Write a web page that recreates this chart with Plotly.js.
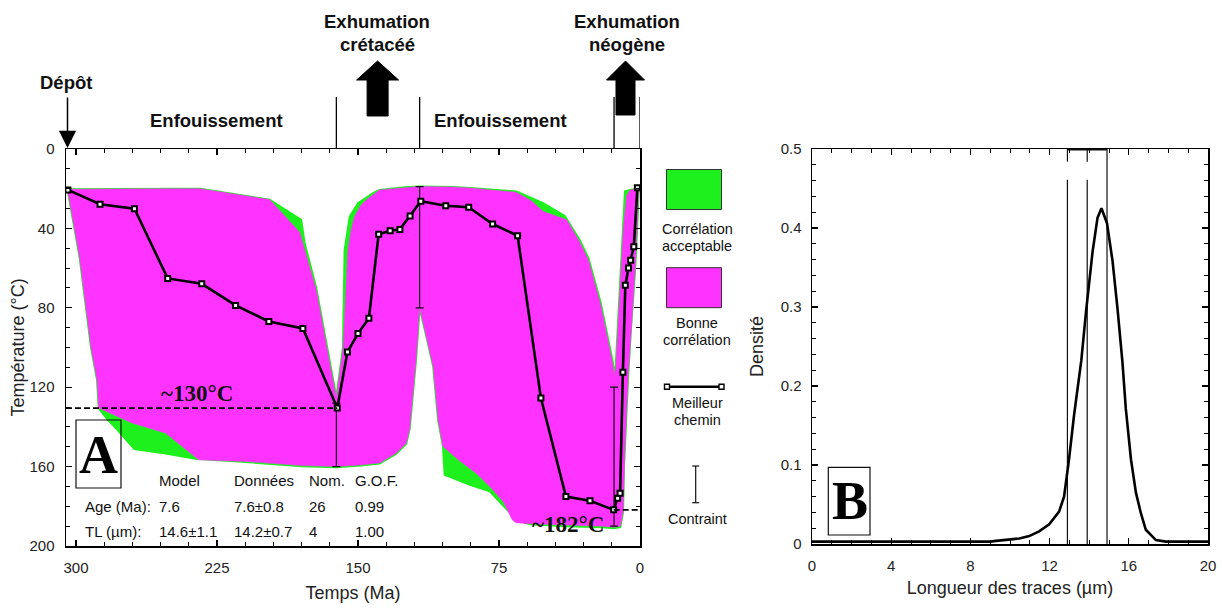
<!DOCTYPE html>
<html><head><meta charset="utf-8">
<script src="https://cdn.plot.ly/plotly-3.0.1.min.js"></script>
<style>html,body{margin:0;padding:0;background:#fff;}#chart{width:1222px;height:610px;}</style>
</head><body><div id="chart"></div>
<script>
// ---------- Panel A : best path (time Ma, temperature °C) ----------
const pathTime = [304.3, 287.2, 268.9, 251.2, 233.1, 215.1, 197.4, 179.3, 161.0, 155.6, 150.0, 144.2, 139.0, 132.9, 127.7, 122.3, 116.6, 103.3, 91.1, 78.4, 65.1, 52.7, 39.4, 26.6, 14.0, 11.9, 10.6, 9.1, 7.8, 6.1, 5.0, 3.3, 1.4];
const pathTemp = [20.6, 27.8, 30.1, 65.2, 67.9, 78.8, 86.9, 90.4, 130.5, 102.3, 93.0, 85.3, 42.9, 41.2, 40.5, 33.7, 26.3, 28.6, 29.3, 37.8, 43.7, 125.5, 175.1, 177.2, 181.8, 175.9, 173.4, 112.5, 68.6, 60.0, 56.0, 49.3, 19.5];

// good-fit envelope (magenta): upper edge (low T) then lower edge (high T)
const goodTopTime = [304.5, 280, 250, 234, 217, 197, 181, 178, 172.2, 165, 161.5, 158, 156.5, 155.3, 153.5, 151.8, 148.5, 145.5, 138.5, 125, 117.2, 100, 90.5, 66, 58, 51.5, 39, 32, 27.4, 20.9, 14.5, 13.8, 12.9, 11.2, 8.9, 7.1, 5.3, 0.6];
const goodTopTemp = [20.3, 20, 20, 20, 22.5, 25.5, 42, 52, 71, 108, 125.5, 101, 70, 50.8, 40, 34, 28.5, 25.6, 20.6, 19.3, 18.9, 19.2, 19.7, 21.8, 26, 31.5, 35.7, 47, 56, 78.6, 108, 114, 110, 80, 40.3, 23.5, 20.6, 20];
const goodBotTime = [0.6, 1.5, 2.6, 4.2, 6.2, 8.0, 9.0, 10.5, 13.8, 20, 40, 58.6, 66, 68, 72.5, 79.4, 87, 96, 104.8, 107.4, 110, 113.5, 117.2, 119, 121, 122.5, 124.3, 129.6, 138.5, 150, 161.5, 180, 209.8, 234.7, 252.4, 270.2, 287.9, 288.8, 292, 298, 304.5];
const goodBotTemp = [20, 40, 61, 85, 113, 150, 182.8, 190, 190.5, 190, 189.5, 188.8, 188.3, 186.8, 178, 170.5, 163.5, 157, 149.9, 136.4, 109.6, 95, 80, 105, 125, 141, 148.2, 153.2, 158.2, 159.3, 160, 159.5, 157.4, 156.6, 143.1, 138, 130.5, 116.3, 100, 55, 20.3];

// acceptable-fit envelope (green)
const accTopTime = [304.5, 280, 250, 234, 217, 197, 180.2, 178.4, 172.2, 165, 161.5, 158, 157.1, 154.4, 150, 142, 138.5, 125, 117.2, 100, 90.5, 65.7, 51.5, 40, 32, 27.4, 20.9, 14.5, 13.8, 12.9, 11.2, 8.9, 8.0, 5.3, 0.6];
const accTopTemp = [20.3, 20, 20, 20, 22.5, 25.5, 35.7, 47.3, 70, 107, 125, 100, 50.8, 34, 27.3, 22.2, 20.6, 19.3, 18.9, 19.2, 19.7, 21.4, 27.3, 33.7, 46, 55, 77.5, 107, 113, 109, 79, 39, 21.3, 20.6, 20];
const accBotTime = [0.6, 1.5, 2.6, 4.8, 6.2, 8.5, 9.0, 10.5, 13.8, 20, 40, 58.6, 65.7, 79.9, 90.5, 103.9, 104.8, 107.4, 110, 113.5, 117.2, 119, 121, 122.5, 124.3, 129.6, 138.5, 150, 161.5, 180, 209.8, 236.5, 252.4, 268.9, 278, 283.5, 287.9, 288.8, 292, 298, 304.5];
const accBotTemp = [20, 40, 61, 90.7, 113, 160, 183, 190.5, 191, 190.5, 190, 189, 186.8, 172.5, 169.2, 164.1, 149.9, 136.4, 109.6, 95, 80, 105, 125, 141, 148.5, 153.5, 158.5, 159.6, 160.3, 159.8, 157.7, 156, 153.4, 151.2, 141.5, 136, 130.5, 116.3, 100, 55, 20.3];

// constraints (time, T min, T max)
const consTime = [161.5, 117.2, 13.8];
const consMin = [128, 19, 120];
const consMax = [160, 80, 190];
const phaseBounds = [161.5, 117.2, 13.8, 0];
const depotTime = 304.5;

// table
const tableHeader = ['Model', 'Données', 'Nom.', 'G.O.F.'];
const rowLabels = ['Age (Ma):', 'TL (µm):'];
const rowAge = ['7.6', '7.6±0.8', '26', '0.99'];
const rowTL = ['14.6±1.1', '14.2±0.7', '4', '1.00'];

// ---------- Panel B : track length density ----------
const lenUm = [0, 9.0, 9.3, 9.8, 10.47, 10.97, 11.47, 11.98, 12.48, 12.73, 12.98, 13.23, 13.49, 13.6, 13.84, 14.17, 14.42, 14.62, 14.9, 15.18, 15.43, 15.68, 15.85, 16.11, 16.36, 16.61, 16.86, 17.37, 17.87, 20];
const density = [0.003, 0.003, 0.004, 0.005, 0.007, 0.010, 0.016, 0.025, 0.041, 0.060, 0.107, 0.162, 0.209, 0.232, 0.294, 0.370, 0.413, 0.425, 0.406, 0.358, 0.298, 0.230, 0.171, 0.107, 0.065, 0.039, 0.018, 0.005, 0.003, 0.003];
const bLineX = [12.9, 13.9, 14.9];
const bLineGap = [[0.461, 0.484], [0.461, 0.484], null];

// ---------- helpers ----------
const W = 1222, H = 610;
const X = px => px / W;
const Y = py => 1 - py / H;
const SANS = 'Liberation Sans, Arial, sans-serif';
const SERIF = 'Liberation Serif, Times New Roman, serif';
const green = '#1EF01E', magenta = '#FF33FF';

const traces = [];
traces.push({x: accTopTime.concat(accBotTime), y: accTopTemp.concat(accBotTemp), xaxis:'x', yaxis:'y',
  mode:'lines', fill:'toself', fillcolor: green, line:{color: green, width:2}, hoverinfo:'skip', showlegend:false});
traces.push({x: goodTopTime.concat(goodBotTime), y: goodTopTemp.concat(goodBotTemp), xaxis:'x', yaxis:'y',
  mode:'lines', fill:'toself', fillcolor: magenta, line:{color: magenta, width:0.5}, hoverinfo:'skip', showlegend:false});
// constraint bars
traces.push({x: consTime, y: consMin, xaxis:'x', yaxis:'y', mode:'markers',
  marker:{size:1, color:'rgba(0,0,0,0)'},
  error_y:{type:'data', symmetric:false, array: consMax.map((v,i)=>v-consMin[i]), arrayminus: consMin.map(()=>0),
    color:'#111', thickness:1.2, width:4}, showlegend:false, hoverinfo:'skip'});
// best path
traces.push({x: pathTime, y: pathTemp, xaxis:'x', yaxis:'y', mode:'lines+markers',
  line:{color:'#000', width:2.6}, marker:{symbol:'square', size:5, color:'#fff', line:{color:'#000', width:2}},
  showlegend:false, hoverinfo:'skip'});

// panel B vertical lines
bLineX.forEach((xv, i) => {
  const g = bLineGap[i];
  const xs = g ? [xv, xv, null, xv, xv] : [xv, xv];
  const ys = g ? [0, g[0], null, g[1], 0.5] : [0, 0.5];
  traces.push({x: xs, y: ys, xaxis:'x2', yaxis:'y2', mode:'lines', line:{color:'#111', width:1.2}, showlegend:false, hoverinfo:'skip'});
});
traces.push({x:[bLineX[0], bLineX[2]], y:[0.5, 0.5], xaxis:'x2', yaxis:'y2', mode:'lines', line:{color:'#111', width:3}, cliponaxis:false, showlegend:false, hoverinfo:'skip'});
traces.push({x: lenUm, y: density, xaxis:'x2', yaxis:'y2', mode:'lines', line:{color:'#000', width:2.6}, showlegend:false, hoverinfo:'skip'});

function axisBase(extra) {
  return Object.assign({
    ticks:'inside', ticklen:6, tickwidth:1.2, tickcolor:'#000',
    showline:true, linecolor:'#000', linewidth:1.5, mirror:'ticks',
    showgrid:false, zeroline:false, automargin:false,
    tickfont:{family:SANS, size:15, color:'#222'}
  }, extra);
}
const titleFont = {family:SANS, size:18, color:'#222'};

const annotations = [];
function txt(text, x, y, size, opts) {
  annotations.push(Object.assign({text, x: X(x), y: Y(y), xref:'paper', yref:'paper', showarrow:false,
    xanchor:'center', yanchor:'middle', font:{family:SANS, size, color:'#111'}}, opts || {}));
}
// top labels
const bold = s => '<b>' + s + '</b>';
txt(bold('Dépôt'), 65.5, 83, 18.5);
txt(bold('Enfouissement'), 216, 120, 18.5);
txt(bold('Enfouissement'), 501, 120, 18.5);
txt(bold('Exhumation'), 377, 21, 18.5);
txt(bold('crétacéé'), 377, 45, 18.5);
txt(bold('Exhumation'), 627, 21, 18.5);
txt(bold('néogène'), 627, 45, 18.5);
// temperature labels
txt(bold('~' + Math.round(pathTemp[8] - 0.5) + '°C'), 197, 393, 23, {font:{family:SERIF, size:23, color:'#111'}});
txt(bold('~' + Math.round(pathTemp[24]) + '°C'), 568, 524, 23, {font:{family:SERIF, size:23, color:'#111'}});
// panel letters
txt(bold('A'), 99, 455, 54, {font:{family:SERIF, size:54, color:'#000'}});
txt(bold('B'), 849.5, 501, 54, {font:{family:SERIF, size:54, color:'#000'}});
// table
const colX = [156.7, 232.3, 306.7, 352.7];
tableHeader.forEach((t, i) => txt(t, colX[i], 480.7, 15, {xanchor:'left'}));
txt(rowLabels[0], 83.3, 506, 15, {xanchor:'left'});
rowAge.forEach((t, i) => txt(t, colX[i], 506, 15, {xanchor:'left'}));
txt(rowLabels[1], 83.3, 531.7, 15, {xanchor:'left'});
rowTL.forEach((t, i) => txt(t, colX[i], 531.7, 15, {xanchor:'left'}));
// legend texts
txt('Corrélation', 697, 229.3, 14.5);
txt('acceptable', 697, 246, 14.5);
txt('Bonne', 697, 323.3, 14.5);
txt('corrélation', 697, 340, 14.5);
txt('Meilleur', 697, 403.3, 14.5);
txt('chemin', 697, 420, 14.5);
txt('Contraint', 697, 519, 14.5);
// Dépôt arrow
annotations.push({x: depotTime, xref:'x', y: Y(148), yref:'paper', text:'', showarrow:true,
  arrowhead:2, arrowsize:2.3, arrowwidth:1.5, arrowcolor:'#000', ax:0, ay:-52, standoff:0});

const shapes = [];
// phase boundary lines above panel A
phaseBounds.forEach(t => shapes.push({type:'line', xref:'x', yref:'paper', x0:t, x1:t, y0:Y(149), y1:Y(97), line:{color:'#000', width:1.3}}));
// block arrows
function blockArrow(cx, headW, shaftW, top, headBase, bottom) {
  const p = [[cx, top], [cx + headW/2, headBase], [cx + shaftW/2, headBase], [cx + shaftW/2, bottom],
             [cx - shaftW/2, bottom], [cx - shaftW/2, headBase], [cx - headW/2, headBase]];
  const path = 'M' + p.map(q => X(q[0]).toFixed(5) + ',' + Y(q[1]).toFixed(5)).join(' L') + ' Z';
  shapes.push({type:'path', xref:'paper', yref:'paper', path, fillcolor:'#000', line:{color:'#000', width:1}});
}
blockArrow(377.6, 42, 21, 61, 80, 116);
blockArrow(625.5, 38, 19, 61, 80, 115);
// dashed reference lines in panel A
shapes.push({type:'line', xref:'x', yref:'y', x0:305.3, x1:pathTime[8], y0:pathTemp[8], y1:pathTemp[8], line:{color:'#000', width:1.8, dash:'6px,3px'}});
shapes.push({type:'line', xref:'x', yref:'y', x0:pathTime[24], x1:0, y0:pathTemp[24], y1:pathTemp[24], line:{color:'#000', width:1.8, dash:'6px,3px'}});
// boxes around letters
shapes.push({type:'rect', xref:'paper', yref:'paper', x0:X(76), x1:X(121), y0:Y(420), y1:Y(488), line:{color:'#111', width:1.2}});
shapes.push({type:'rect', xref:'paper', yref:'paper', x0:X(828.3), x1:X(870), y0:Y(467.3), y1:Y(535), line:{color:'#111', width:1.2}});
// legend symbols
shapes.push({type:'rect', xref:'paper', yref:'paper', x0:X(666.5), x1:X(721.5), y0:Y(169.5), y1:Y(209.5), fillcolor:green, line:{color:'#333', width:1}});
shapes.push({type:'rect', xref:'paper', yref:'paper', x0:X(666.5), x1:X(721.5), y0:Y(267.7), y1:Y(307.7), fillcolor:magenta, line:{color:'#333', width:1}});
shapes.push({type:'line', xref:'paper', yref:'paper', x0:X(667), x1:X(721.5), y0:Y(386.7), y1:Y(386.7), line:{color:'#000', width:2.4}});
[667, 721.5].forEach(cx => shapes.push({type:'rect', xref:'paper', yref:'paper', x0:X(cx-2.5), x1:X(cx+2.5), y0:Y(384.2), y1:Y(389.2), fillcolor:'#fff', line:{color:'#000', width:1.4}}));
shapes.push({type:'line', xref:'paper', yref:'paper', x0:X(695.7), x1:X(695.7), y0:Y(466), y1:Y(502.7), line:{color:'#111', width:1.2}});
[466, 502.7].forEach(cy => shapes.push({type:'line', xref:'paper', yref:'paper', x0:X(692.2), x1:X(699.2), y0:Y(cy), y1:Y(cy), line:{color:'#111', width:1.2}}));

const layout = {
  width: W, height: H, margin:{l:0, r:0, t:0, b:0}, paper_bgcolor:'#fff', plot_bgcolor:'rgba(0,0,0,0)', showlegend:false,
  xaxis: axisBase({domain:[X(66), X(640)], range:[305.3, 0], tick0:0, dtick:75, anchor:'y',
    minor:{tick0:0, dtick:15, ticks:'inside', ticklen:4, tickcolor:'#000', tickwidth:1},
    ticklabelstandoff:7, title:{text:'Temps (Ma)', font:titleFont, standoff:12}}),
  yaxis: axisBase({domain:[Y(546), Y(149)], range:[200, 0], tick0:0, dtick:40, anchor:'x',
    minor:{tick0:0, dtick:10, ticks:'inside', ticklen:4, tickcolor:'#000', tickwidth:1},
    ticklabelstandoff:7, title:{text:'Température (°C)', font:titleFont, standoff:0}}),
  xaxis2: axisBase({domain:[X(812), X(1208)], range:[0, 20], tick0:0, dtick:4, anchor:'y2',
    minor:{tick0:0, dtick:1, ticks:'inside', ticklen:4, tickcolor:'#000', tickwidth:1},
    ticklabelstandoff:7, title:{text:'Longueur des traces (µm)', font:titleFont, standoff:9}}),
  yaxis2: axisBase({domain:[Y(544), Y(149)], range:[0, 0.5], tick0:0, dtick:0.1, anchor:'x2',
    minor:{tick0:0, dtick:0.02, ticks:'inside', ticklen:4, tickcolor:'#000', tickwidth:1},
    ticklabelstandoff:6, title:{text:'Densité', font:titleFont, standoff:12}}),
  annotations, shapes
};
Plotly.newPlot('chart', traces, layout, {displayModeBar:false, staticPlot:true});
</script></body></html>
